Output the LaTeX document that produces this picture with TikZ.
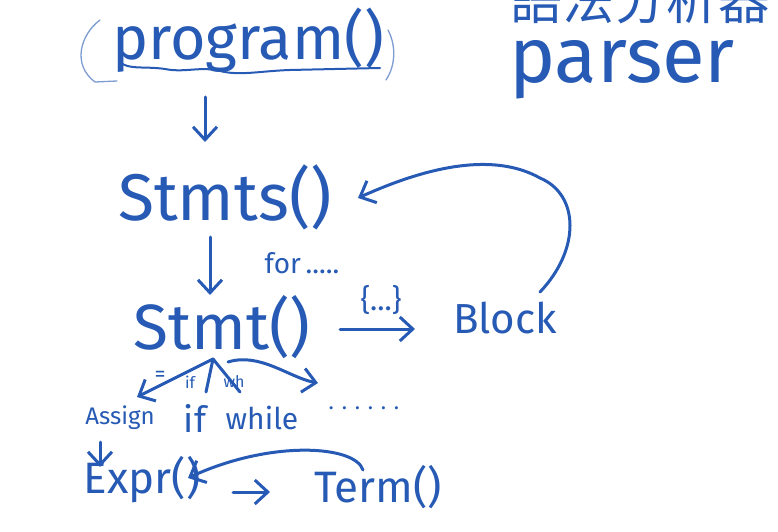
\documentclass[tikz,border=0pt]{standalone}
\usepackage{fontspec}
\setmainfont{Fira Sans}
\newfontfamily\cjk{Noto Sans CJK TC}
\usetikzlibrary{arrows.meta}
\definecolor{ink}{RGB}{38,90,180}
\begin{document}
\begin{tikzpicture}[x=1pt,y=-1pt,
  every node/.style={text=ink, inner sep=0pt, anchor=center},
  inkline/.style={draw=ink, line width=3pt, line cap=round, line join=round},
  thinline/.style={draw=ink!60, line width=1.3pt, line cap=round, line join=round},
  arr/.style={inkline, -{Straight Barb[length=13pt,width=24pt]}},
  fs/.style={font=\fontsize{#1}{#1}\selectfont}]
\useasboundingbox (0,0) rectangle (778,532);
\clip (0,0) rectangle (778,532);

% texts
\node[fs=52] (title) at (640,0) {\cjk 語法分析器};
\node[fs=78] (parser) at (622,70) {parser};
\node[fs=61] (program) at (248,40) {program()};
\node[fs=66] (stmts) at (225,197) {Stmts()};
\node[fs=64] (stmt) at (222,327) {Stmt()};
\node[fs=42] (block) at (505,318) {Block};
\node[fs=24] (assign) at (120,418) {Assign};
\node[fs=36] (if) at (195,418) {if};
\node[fs=30] (while) at (262,418) {while};
\node[fs=22] (more) at (364,408) {. . . . . .};
\node[fs=44] (expr) at (142,480) {Expr()};
\node[fs=44] (term) at (378,487) {Term()};
\node[fs=28] (forlbl) at (302,263) {for\,.....};
\node[fs=30] (brlbl) at (381,300) {\{...\}};
\node[fs=22] (eqlbl) at (160,376) {=};
\node[fs=16] (iflbl) at (190,382) {if};
\node[fs=16] (whlbl) at (234,382) {wh};

% brackets and underline around program()
\draw[thinline] (100,20) .. controls (80,35) and (72,65) .. (95,82) -- (117,81);
\draw[thinline] (388,30) .. controls (396,45) and (396,65) .. (386,80);
\draw[draw=ink, line width=2pt, line cap=round] (120,62) .. controls (128,70) and (145,66) .. (165,69)
   .. controls (185,73) and (200,66) .. (220,71) .. controls (240,76) and (260,71) .. (290,70) -- (380,68);

% connector end points
\coordinate (p1) at (205,97);  \coordinate (p2) at (205,142);
\coordinate (s1) at (210,237); \coordinate (s2) at (210,295);
\coordinate (b1) at (340,329); \coordinate (b2) at (415,329);
\coordinate (r1) at (540,292); \coordinate (r2) at (358,198);
\coordinate (apex) at (213,359);
\coordinate (a2) at (137,397); \coordinate (i2) at (206,392); \coordinate (w2) at (240,392);
\coordinate (m1) at (228,362); \coordinate (m2) at (318,383);
\coordinate (e1) at (100,442); \coordinate (e2) at (100,467);
\coordinate (t1) at (233,492); \coordinate (t2) at (270,492);
\coordinate (u1) at (363,470); \coordinate (u2) at (188,478);

% connectors
\draw[arr] (p1) -- (p2);
\draw[arr] (s1) -- (s2);
\draw[arr] (b1) -- (b2);
\draw[arr] (r1) .. controls (580,250) and (580,195) .. (540,178) .. controls (490,150) and (420,170) .. (r2);
\draw[arr] (apex) -- (a2);
\draw[inkline] (apex) -- (i2);
\draw[inkline] (apex) -- (w2);
\draw[arr] (m1) .. controls (260,352) and (290,378) .. (m2);
\draw[arr] (e1) -- (e2);
\draw[arr] (t1) -- (t2);
\draw[arr] (u1) .. controls (355,445) and (270,440) .. (u2);
\end{tikzpicture}
\end{document}
